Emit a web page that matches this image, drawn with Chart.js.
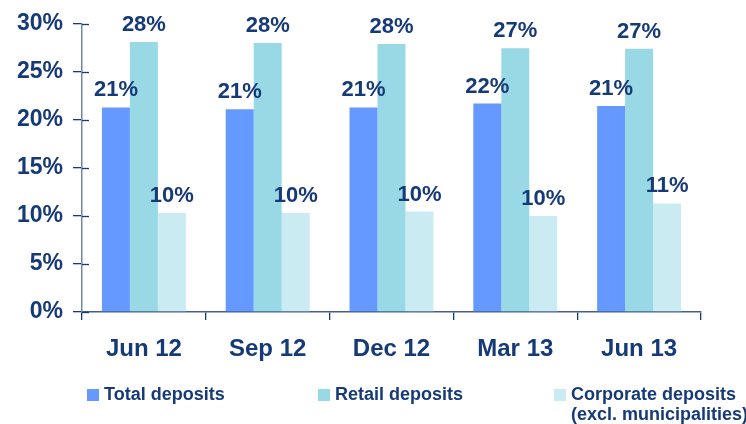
<!DOCTYPE html>
<html>
<head>
<meta charset="utf-8">
<script src="https://cdn.jsdelivr.net/npm/chart.js@4/dist/chart.umd.min.js"></script>
<style>
  html, body { margin: 0; padding: 0; background: #fff; }
  #wrap { width: 746px; height: 424px; position: relative; }
</style>
</head>
<body>
<div id="wrap"><canvas id="depositChart"></canvas></div>
<script>
const categories = ['Jun 12', 'Sep 12', 'Dec 12', 'Mar 13', 'Jun 13'];
const totalDeposits = [21.3, 21.1, 21.3, 21.7, 21.45];
const retailDeposits = [28.1, 28.0, 27.9, 27.45, 27.4];
const corporateDeposits = [10.3, 10.3, 10.45, 10.0, 11.3];
const seriesNames = ['Total deposits', 'Retail deposits', ['Corporate deposits', '(excl. municipalities)']];
const yTicks = [0, 5, 10, 15, 20, 25, 30];

const navy = '#163a78';
const fontFamily = "'Liberation Sans', Arial, sans-serif";

// value labels above each bar
const valueLabelsPlugin = {
    id: 'valueLabels',
    afterDatasetsDraw(chart) {
        const { ctx } = chart;
        ctx.save();
        ctx.font = `bold 22px ${fontFamily}`;
        ctx.fillStyle = navy;
        ctx.textAlign = 'center';
        ctx.textBaseline = 'alphabetic';
        chart.data.datasets.forEach((ds, di) => {
            chart.getDatasetMeta(di).data.forEach((bar, i) => {
                ctx.fillText(`${Math.round(ds.data[i])}%`, bar.x, bar.y - 11);
            });
        });
        ctx.restore();
    },
};

// y ticks cross the axis line, draw the inner half
const innerTicksPlugin = {
    id: 'innerTicks',
    afterDraw(chart) {
        const { ctx, chartArea, scales } = chart;
        ctx.save();
        ctx.strokeStyle = navy;
        ctx.lineWidth = 1.3;
        scales.y.ticks.forEach((t) => {
            const y = Math.round(scales.y.getPixelForValue(t.value)) + 0.5;
            ctx.beginPath();
            ctx.moveTo(chartArea.left, y);
            ctx.lineTo(chartArea.left + 7, y);
            ctx.stroke();
        });
        ctx.restore();
    },
};

// legend laid out like the original slide
const slideLegendPlugin = {
    id: 'slideLegend',
    afterDraw(chart) {
        const { ctx } = chart;
        const xs = [87, 318, 554];
        ctx.save();
        ctx.font = `bold 18px ${fontFamily}`;
        ctx.textAlign = 'left';
        ctx.textBaseline = 'alphabetic';
        chart.data.datasets.forEach((ds, i) => {
            const x = xs[i];
            ctx.fillStyle = ds.backgroundColor;
            ctx.fillRect(x, 389, 12, 12);
            ctx.fillStyle = navy;
            const lines = Array.isArray(ds.label) ? ds.label : [ds.label];
            lines.forEach((line, li) => ctx.fillText(line, x + 17, 400 + li * 20));
        });
        ctx.restore();
    },
};

const barStyle = {
    borderWidth: 0,
    categoryPercentage: 0.678,
    barPercentage: 1.0,
};

new Chart(document.getElementById('depositChart'), {
    type: 'bar',
    data: {
        labels: categories,
        datasets: [
            { label: seriesNames[0], data: totalDeposits, backgroundColor: '#6699ff', ...barStyle },
            { label: seriesNames[1], data: retailDeposits, backgroundColor: '#99d9e6', ...barStyle },
            { label: seriesNames[2], data: corporateDeposits, backgroundColor: '#cbebf2', ...barStyle },
        ],
    },
    options: {
        responsive: true,
        maintainAspectRatio: false,
        animation: false,
        events: [],
        layout: {
            padding: { top: 23, right: 45, bottom: 52, left: 0 },
        },
        scales: {
            x: {
                offset: true,
                grid: {
                    offset: true,
                    drawOnChartArea: false,
                    drawTicks: true,
                    tickLength: 8,
                    color: navy,
                    lineWidth: 1.3,
                },
                border: { color: '#41608f', width: 1.5 },
                ticks: {
                    color: navy,
                    font: { family: fontFamily, size: 24, weight: 'bold' },
                    padding: 15,
                    maxRotation: 0,
                },
                afterFit(scale) { scale.height = 60; },
            },
            y: {
                min: 0,
                max: 30,
                afterBuildTicks(scale) { scale.ticks = yTicks.map((v) => ({ value: v })); },
                grid: {
                    drawOnChartArea: false,
                    drawTicks: true,
                    tickLength: 9,
                    color: navy,
                    lineWidth: 1.3,
                },
                border: { color: '#7088aa', width: 1.5 },
                ticks: {
                    color: navy,
                    font: { family: fontFamily, size: 23, weight: 'bold' },
                    padding: 10,
                    callback: (v) => `${v}%`,
                },
                afterFit(scale) { scale.width = 82; },
            },
        },
        plugins: {
            legend: { display: false },
            tooltip: { enabled: false },
        },
    },
    plugins: [valueLabelsPlugin, innerTicksPlugin, slideLegendPlugin],
});
</script>
</body>
</html>
